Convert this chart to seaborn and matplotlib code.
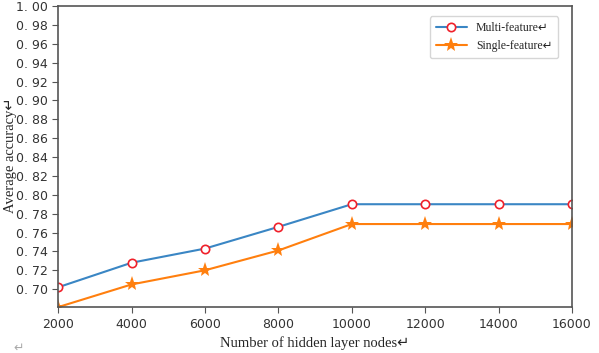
import numpy as np
import pandas as pd
import matplotlib
matplotlib.use("Agg")
import matplotlib.pyplot as plt
import seaborn as sns

# data
hidden_nodes = [2000, 4000, 6000, 8000, 10000, 12000, 14000, 16000]
multi_feature = [0.702, 0.728, 0.743, 0.766, 0.790, 0.790, 0.790, 0.790]
single_feature = [0.681, 0.705, 0.720, 0.741, 0.769, 0.769, 0.769, 0.769]
y_ticks = [0.70, 0.72, 0.74, 0.76, 0.78, 0.80, 0.82, 0.84, 0.86, 0.88,
           0.90, 0.92, 0.94, 0.96, 0.98, 1.00]

sns.set_style("ticks")
serif = ["Liberation Serif", "DejaVu Sans"]
sans = ["DejaVu Sans"]

fig = plt.figure(figsize=(5.99, 3.53), dpi=100)
ax = fig.add_axes([0.097, 0.130, 0.858, 0.853])

sns.lineplot(x=hidden_nodes, y=multi_feature, ax=ax, color="#3a86c4",
             linewidth=1.5, marker="o", markersize=6, markerfacecolor="white",
             markeredgecolor="#f0202a", markeredgewidth=1.2,
             label="Multi-feature\u21b5")
sns.lineplot(x=hidden_nodes, y=single_feature, ax=ax, color="#ff7f0e",
             linewidth=1.5, marker="*", markersize=11, markeredgewidth=0,
             label="Single-feature\u21b5")

ax.set_xlim(2000, 16000)
ax.set_ylim(0.681, 1.0)
ax.set_xticks(hidden_nodes)
ax.set_xticklabels([str(v) for v in hidden_nodes], family=sans, fontsize=9,
                   color="#333333")
ax.set_yticks(y_ticks)
ax.set_yticklabels(["%d. %02d" % (int(v), round(v * 100) % 100) for v in y_ticks],
                   family=sans, fontsize=9, color="#333333")

for s in ax.spines.values():
    s.set_color("#555555")
    s.set_linewidth(1.2)
ax.tick_params(direction="out", length=4, color="#555555")

ax.set_xlabel("")
ax.set_ylabel("")
fig.text(0.018, 0.56, "Average accuracy\u21b5", rotation=90, ha="center",
         va="center", family=serif, fontsize=10.5)
fig.text(0.525, 0.028, "Number of hidden layer nodes\u21b5", ha="center",
         va="center", family=serif, fontsize=10.5)
fig.text(0.032, 0.015, "\u21b5", ha="center", va="center",
         family=sans, fontsize=9, color="#aaaaaa")

leg = ax.legend(loc="upper right", bbox_to_anchor=(0.985, 0.985),
                prop={"family": serif, "size": 8.5}, frameon=True,
                handlelength=2.6, borderpad=0.5, labelspacing=0.5)
leg.get_frame().set_edgecolor("#cccccc")

fig.savefig("out.png", dpi=100)
